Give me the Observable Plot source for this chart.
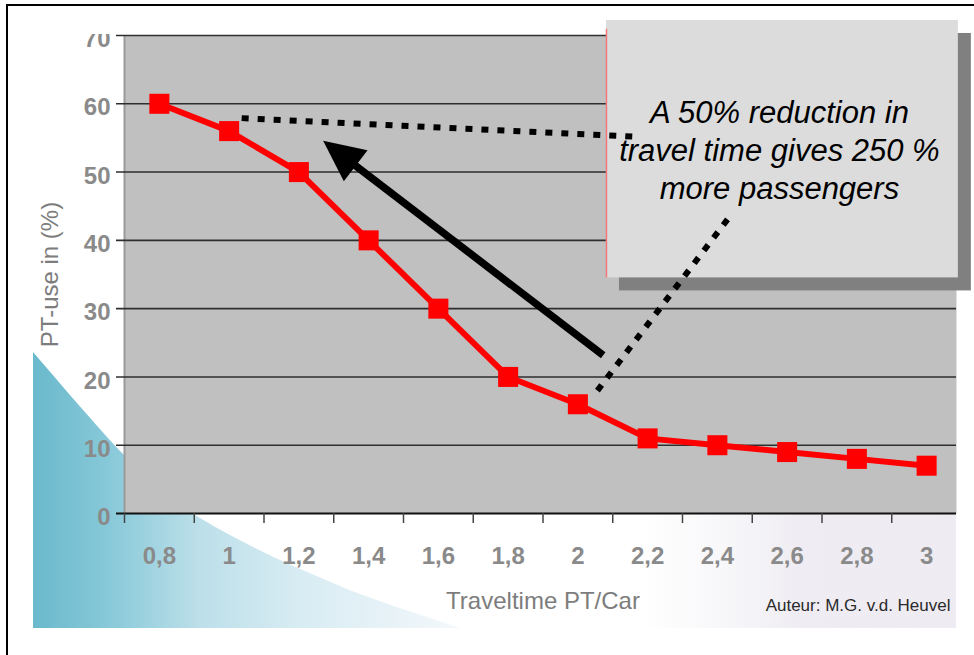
<!DOCTYPE html>
<html>
<head>
<meta charset="utf-8">
<script src="https://cdn.jsdelivr.net/npm/d3@7"></script>
<script src="https://cdn.jsdelivr.net/npm/@observablehq/plot@0.6"></script>
<style>
  html, body { margin: 0; padding: 0; background: #fff; }
  #wrap { position: relative; width: 974px; height: 655px; overflow: hidden; }
  #chart { position: absolute; left: 0; top: 0; }
  #border { position: absolute; left: 6px; top: 4px; right: -10px; bottom: -10px;
            border-top: 2px solid #000; border-left: 2px solid #000; pointer-events: none; }
</style>
</head>
<body>
<div id="wrap"><div id="chart"></div><div id="border"></div></div>
<script>
// Public-transport use as a function of the PT / car travel-time ratio
const travelRatio = [0.8, 1, 1.2, 1.4, 1.6, 1.8, 2, 2.2, 2.4, 2.6, 2.8, 3];
const ptUse = [60, 56, 50, 40, 30, 20, 16, 11, 10, 9, 8, 7];
const xTickLabels = ["0,8", "1", "1,2", "1,4", "1,6", "1,8", "2", "2,2", "2,4", "2,6", "2,8", "3"];
const xTickBounds = [0.7, 0.9, 1.1, 1.3, 1.5, 1.7, 1.9, 2.1, 2.3, 2.5, 2.7, 2.9];
const yTicks = [0, 10, 20, 30, 40, 50, 60, 70];
const xTitle = "Traveltime PT/Car";
const yTitle = "PT-use in (%)";
const credit = "Auteur: M.G. v.d. Heuvel";
const noteLines = ["A 50% reduction in", "travel time gives 250 %", "more passengers"];

// Callout placement, in data units (travel-time ratio, %)
const noteBox = {x1: 2.082, x2: 3.091, y1: 34.5, y2: 72.2};
const leaders = [
  {x1: 1.036, y1: 57.9, x2: 2.157, y2: 55.2},
  {x1: 2.056, y1: 18.0, x2: 2.443, y2: 44.0}
];
const bigArrow = {x1: 2.074, y1: 23.1, x2: 1.271, y2: 54.5};

const rows = travelRatio.map((t, i) => ({t, use: ptUse[i], label: xTickLabels[i]}));

// Soft teal sweep in the lower-left corner of the slide background
function backdrop() {
  const g = d3.create("svg:g");
  const defs = g.append("defs");
  const lg = defs.append("linearGradient").attr("id", "sweep")
    .attr("gradientUnits", "userSpaceOnUse").attr("x1", 33).attr("y1", 0).attr("x2", 520).attr("y2", 0);
  [[0, "#6ab9cc"], [0.15, "#86c8d8"], [0.34, "#bcdfe9"], [0.55, "#d8ecf3"], [0.8, "#edf5f9"], [1, "#ffffff"]]
    .forEach(([o, c]) => lg.append("stop").attr("offset", o).attr("stop-color", c));
  const lv = defs.append("linearGradient").attr("id", "haze")
    .attr("gradientUnits", "userSpaceOnUse").attr("x1", 640).attr("y1", 0).attr("x2", 956).attr("y2", 0);
  lv.append("stop").attr("offset", 0).attr("stop-color", "#f2f1f5").attr("stop-opacity", 0);
  lv.append("stop").attr("offset", 0.5).attr("stop-color", "#efedf3").attr("stop-opacity", 1);
  lv.append("stop").attr("offset", 1).attr("stop-color", "#eeecf2").attr("stop-opacity", 1);
  g.append("rect").attr("x", 640).attr("y", 500).attr("width", 316).attr("height", 128).attr("fill", "url(#haze)");
  g.append("path")
    .attr("d", "M33,352C70,395 100,430 124,455C150,482 175,505 200,518C245,545 290,565 333,583C365,597 400,608 460,628L33,628Z")
    .attr("fill", "url(#sweep)");
  return g.node();
}

// Solid arrow with a filled triangular head
function arrowMark(index, scales) {
  const {x, y} = scales;
  const x1 = x(bigArrow.x1), y1 = y(bigArrow.y1), x2 = x(bigArrow.x2), y2 = y(bigArrow.y2);
  const len = Math.hypot(x2 - x1, y2 - y1), ux = (x2 - x1) / len, uy = (y2 - y1) / len;
  const headLen = 41, half = 19.5;
  const bx = x2 - ux * headLen, by = y2 - uy * headLen;
  const g = d3.create("svg:g");
  g.append("line").attr("x1", x1).attr("y1", y1).attr("x2", bx + ux * 3).attr("y2", by + uy * 3)
    .attr("stroke", "#000").attr("stroke-width", 7.5);
  g.append("path")
    .attr("d", `M${x2},${y2}L${bx - uy * half},${by + ux * half}L${bx + uy * half},${by - ux * half}Z`)
    .attr("fill", "#000");
  return g.node();
}

const font = "Arial, 'Liberation Sans', sans-serif";

const chart = Plot.plot({
  width: 974,
  height: 655,
  marginLeft: 124,
  marginRight: 13,
  marginTop: 35,
  marginBottom: 142,
  style: {background: "transparent", fontFamily: font, overflow: "visible"},
  x: {domain: [0.7, 3.1], axis: null},
  y: {domain: [0, 70], axis: null},
  marks: [
    backdrop,
    Plot.frame({fill: "#c0c0c0", stroke: "none", insetRight: 5}),
    Plot.ruleX([0.7], {y1: 0, y2: 70, stroke: "#9a9a9a", strokeWidth: 2}),
    Plot.ruleY(yTicks.filter(d => d > 0), {y: d => d, stroke: "#2e2e2e", strokeWidth: 1.6, insetLeft: -8, insetRight: 5}),
    Plot.ruleY([0], {y: d => d, stroke: "#111", strokeWidth: 2, insetLeft: -8, insetRight: 5}),
    Plot.ruleX(xTickBounds, {x: d => d, y1: 0, y2: 0, insetBottom: -10, stroke: "#444", strokeWidth: 1.5}),
    Plot.line(rows, {x: "t", y: "use", stroke: "#ff0000", strokeWidth: 6}),
    Plot.dot(rows, {x: "t", y: "use", symbol: "square", r: 11.3, fill: "#ff0000", stroke: "none"}),
    Plot.text(yTicks, {frameAnchor: "left", y: d => d, text: d => String(d), textAnchor: "end",
      dx: -14, dy: 4, fontSize: 24, fontWeight: "bold", fill: "#8a8a8a"}),
    Plot.text(rows, {x: "t", text: "label", frameAnchor: "bottom", dy: 50,
      fontSize: 24, fontWeight: "bold", fill: "#8a8a8a"}),
    Plot.text([xTitle], {text: d => d, frameAnchor: "bottom", dy: 95, fontSize: 24, fill: "#7d7d7d"}),
    Plot.text([yTitle], {text: d => d, frameAnchor: "left", textAnchor: "middle", dx: -74, rotate: -90,
      fontSize: 24, fill: "#7d7d7d"}),
    Plot.text([credit], {text: d => d, frameAnchor: "bottom-right", textAnchor: "end", dx: -11, dy: 97,
      fontSize: 17, fill: "#2a2a2a"}),
    // callout
    Plot.rect([noteBox], {x1: "x1", x2: "x2", y1: "y1", y2: "y2", fill: "#808080", dx: 13, dy: 13}),
    Plot.rect([noteBox], {x1: "x1", x2: "x2", y1: "y1", y2: "y2", fill: "#dcdcdc"}),
    Plot.ruleX([noteBox], {x: "x1", y1: "y1", y2: 70.9, stroke: "#f07878", strokeWidth: 1.5}),
    Plot.text([noteLines.join("\n")], {
      x: (noteBox.x1 + noteBox.x2) / 2, y: (noteBox.y1 + noteBox.y2) / 2, text: d => d,
      dx: -3, dy: 0, fontSize: 31, fontStyle: "italic", lineHeight: 1.22, fill: "#000"
    }),
    Plot.link(leaders, {x1: "x1", y1: "y1", x2: "x2", y2: "y2", stroke: "#000", strokeWidth: 6,
      strokeDasharray: "7 9"}),
    arrowMark
  ]
});

// the slide picture starts just below the top of the "70" label
d3.select(chart).append("rect").attr("x", 20).attr("y", 6).attr("width", 92).attr("height", 28).attr("fill", "#fff");

document.getElementById("chart").appendChild(chart);
</script>
</body>
</html>
